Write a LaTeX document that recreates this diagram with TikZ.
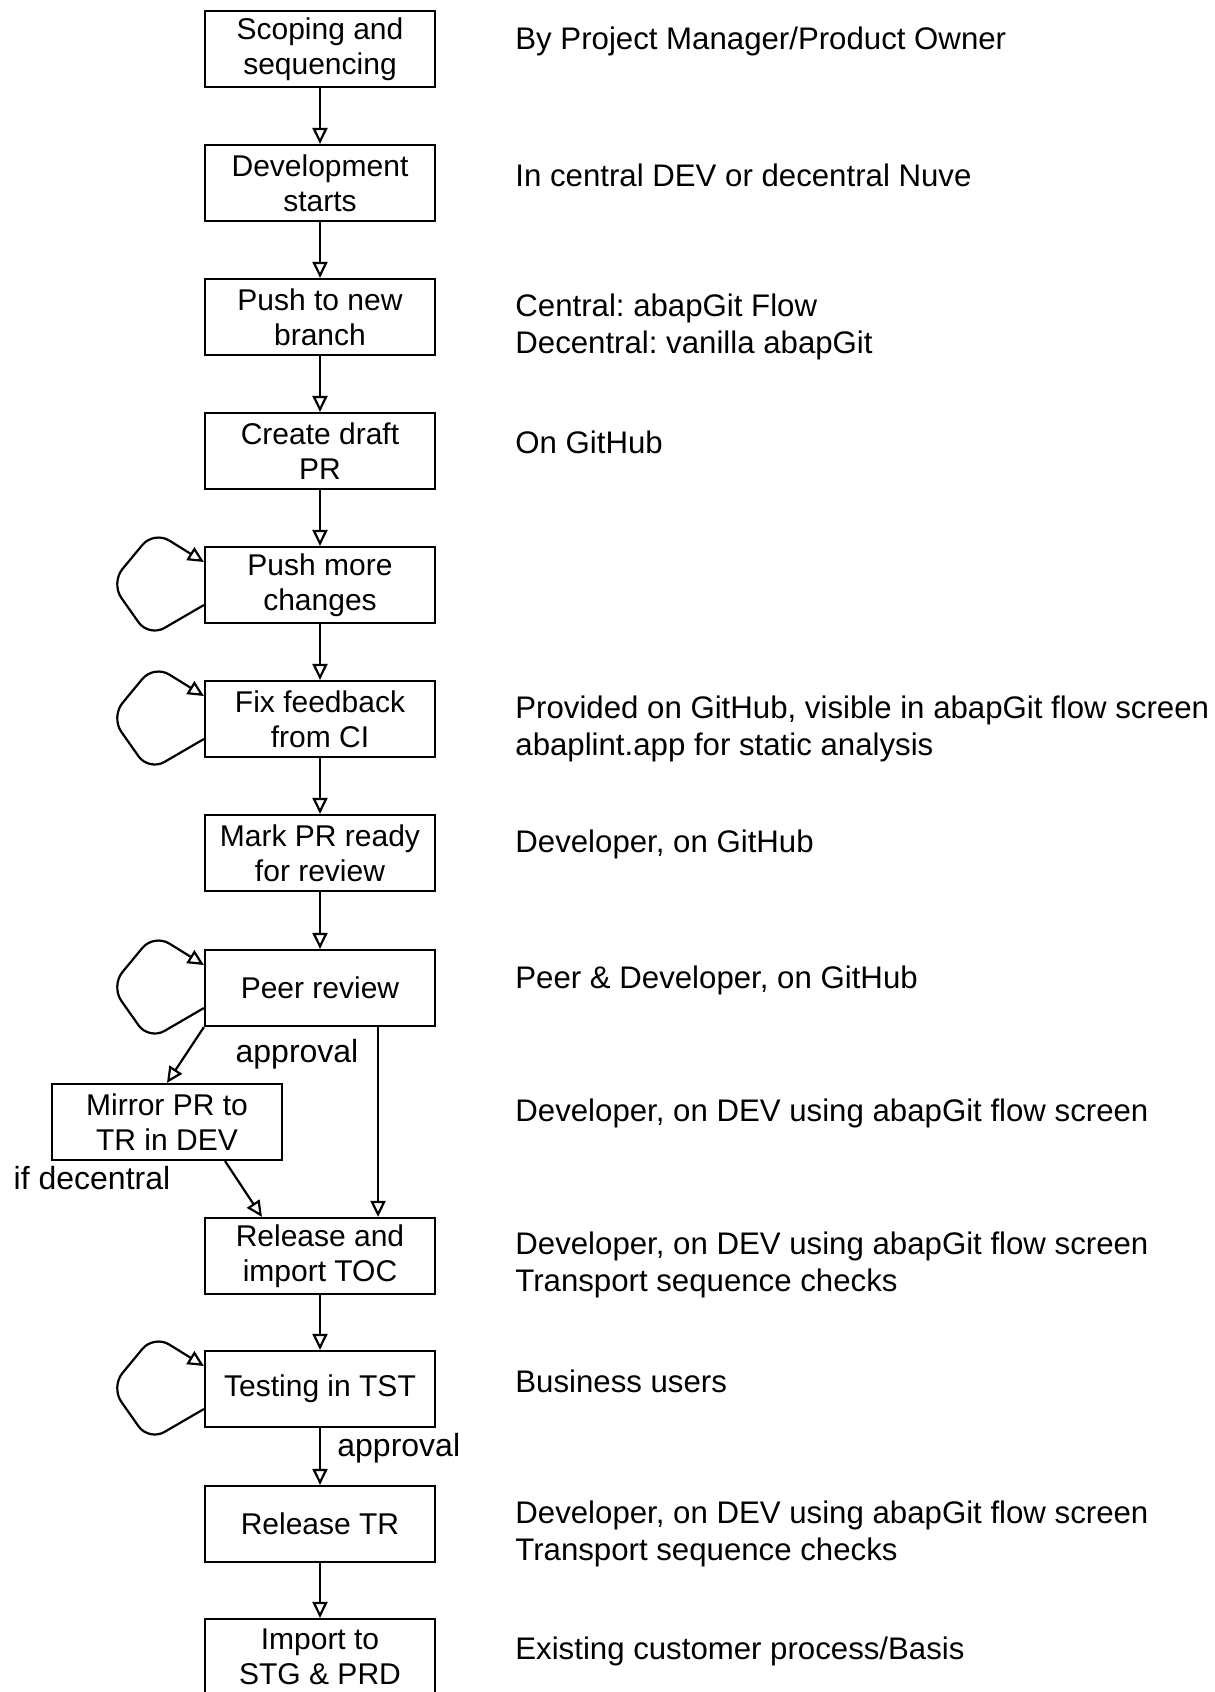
\documentclass[tikz,border=0pt]{standalone}
\usepackage{fontspec}
\setmainfont{Liberation Sans}
\usetikzlibrary{arrows.meta,calc}

\begin{document}
\frenchspacing
\begin{tikzpicture}[x=0.5pt,y=-0.5pt,
  stepbox/.style={draw, line width=1.1pt, fill=white, minimum width=115pt,
    minimum height=38pt, align=center, inner sep=1pt,
    font=\fontsize{15}{17.5}\selectfont},
  note/.style={anchor=west, align=left, inner sep=0pt,
    font=\fontsize{15.6}{18.3}\selectfont},
  lbl/.style={inner sep=0pt, font=\fontsize{16}{18}\selectfont},
  arr/.style={-{Triangle[open,length=8pt,width=7.5pt]}, line width=1.1pt},
  selfloop/.style={arr, rounded corners=9pt},
]
\useasboundingbox (0,0) rectangle (1215,1692);
\clip (0,0) rectangle (1215,1692);
\fill[white] (0,0) rectangle (1215,1692);

% process steps
\node[stepbox] (scope)   at (320,49)   {Scoping and\\sequencing};
\node[stepbox] (devst)   at (320,183)  {Development\\starts};
\node[stepbox] (push)    at (320,317)  {Push to new\\branch};
\node[stepbox] (draft)   at (320,451)  {Create draft\\PR};
\node[stepbox] (more)    at (320,585)  {Push more\\changes};
\node[stepbox] (fix)     at (320,719)  {Fix feedback\\from CI};
\node[stepbox] (ready)   at (320,853)  {Mark PR ready\\for review};
\node[stepbox] (peer)    at (320,988)  {Peer review};
\node[stepbox] (mirror)  at (167,1122) {Mirror PR to\\TR in DEV};
\node[stepbox] (relimp)  at (320,1256) {Release and\\import TOC};
\node[stepbox] (test)    at (320,1389) {Testing in TST};
\node[stepbox] (reltr)   at (320,1524) {Release TR};
\node[stepbox] (imp)     at (320,1657) {Import to\\STG \& PRD};

% main flow
\draw[arr] (scope) -- (devst);
\draw[arr] (devst) -- (push);
\draw[arr] (push)  -- (draft);
\draw[arr] (draft) -- (more);
\draw[arr] (more)  -- (fix);
\draw[arr] (fix)   -- (ready);
\draw[arr] (ready) -- (peer);
\draw[arr] (peer.south west) -- (mirror.north);
\draw[arr] ($(peer.south)!0.5!(peer.south east)$) -- ($(relimp.north)!0.5!(relimp.north east)$);
\draw[arr] ($(mirror.south)!0.5!(mirror.south east)$) -- ($(relimp.north)!0.5!(relimp.north west)$);
\draw[arr] (relimp) -- (test);
\draw[arr] (test)  -- (reltr);
\draw[arr] (reltr) -- (imp);

% iteration loops on the left
\foreach \n in {more,fix,peer,test}{
  \draw[selfloop] ($(\n.west)+(0,20)$) -- ($(\n.west)+(-55,52)$)
    -- ($(\n.west)+(-93,-2)$) -- ($(\n.west)+(-50,-54)$)
    -- ($(\n.west)+(0,-23)$);
}

% connector labels
\node[lbl] (appr1) at (297,1054) {approval};
\node[lbl] (decen) at (92,1178) {if decentral};
\node[lbl, anchor=west] (appr2) at (337,1448) {approval};

% responsibilities
\node[note] (n1)  at (515,41)   {By Project Manager/Product Owner};
\node[note] (n2)  at (515,175)  {In central DEV or decentral Nuve};
\node[note] (n3)  at (515,327)  {Central: abapGit Flow\\Decentral: vanilla abapGit};
\node[note] (n4)  at (515,442)  {On GitHub};
\node[note] (n5)  at (515,729)  {Provided on GitHub, visible in abapGit flow screen\\abaplint.app for static analysis};
\node[note] (n6)  at (515,844)  {Developer, on GitHub};
\node[note] (n7)  at (515,980)  {Peer \& Developer, on GitHub};
\node[note] (n8)  at (515,1113) {Developer, on DEV using abapGit flow screen};
\node[note] (n9)  at (515,1265) {Developer, on DEV using abapGit flow screen\\Transport sequence checks};
\node[note] (n10) at (515,1381) {Business users};
\node[note] (n11) at (515,1534) {Developer, on DEV using abapGit flow screen\\Transport sequence checks};
\node[note] (n12) at (515,1651) {Existing customer process/Basis};
\end{tikzpicture}
\end{document}
